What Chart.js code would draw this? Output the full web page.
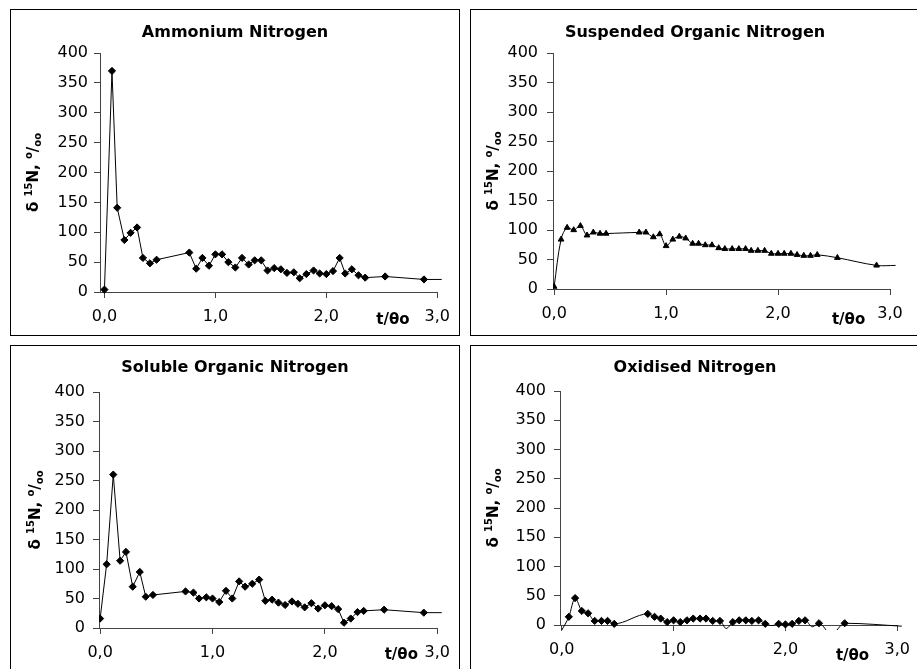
<!DOCTYPE html>
<html>
<head>
<meta charset="utf-8">
<script src="https://cdn.jsdelivr.net/npm/chart.js@4.4.1/dist/chart.umd.min.js"></script>
<style>
body{margin:0;background:#fff;width:917px;height:669px;overflow:hidden;position:relative}
.panel{position:absolute;box-sizing:border-box;width:450px;height:327px;border:1px solid #000;background:#fff}
.panel canvas{display:block}
</style>
</head>
<body>
<div class="panel" style="left:10px;top:9px"><canvas id="c1" width="448" height="325"></canvas></div>
<div class="panel" style="left:470px;top:9px"><canvas id="c2" width="448" height="325"></canvas></div>
<div class="panel" style="left:10px;top:345px"><canvas id="c3" width="448" height="325"></canvas></div>
<div class="panel" style="left:470px;top:345px"><canvas id="c4" width="448" height="325"></canvas></div>
<script>
// values (t/θo, δ15N ‰)
const xTicks = [0, 1, 2, 3];
const yMax = 400, yStep = 50;

const ammoniumT = [0,0.068,0.115,0.18,0.236,0.294,0.347,0.41,0.47,0.765,0.827,0.883,0.942,1.0,1.06,1.117,1.18,1.24,1.3,1.354,1.413,1.47,1.53,1.59,1.645,1.707,1.76,1.82,1.885,1.94,2.0,2.06,2.12,2.17,2.23,2.29,2.35,2.53,2.88,3.04];
const ammoniumN = [4,370,141,87,99,108,57,48,54,66,39,57,44,63,63,50,41,57,46,53,53,36,40,38,32,33,23,30,36,31,30,35,57,31,38,28,24,26,21,21];

const suspendedT = [0,0.062,0.116,0.175,0.235,0.294,0.35,0.41,0.464,0.76,0.82,0.886,0.943,1.0,1.06,1.118,1.175,1.237,1.29,1.35,1.41,1.47,1.525,1.59,1.65,1.71,1.76,1.82,1.88,1.94,2.0,2.055,2.115,2.17,2.23,2.29,2.35,2.53,2.88,3.05];
const suspendedN = [4,84,104,100,107,91,96,94,94,96,96,88,93,73,84,89,86,77,77,74.5,74.5,69.5,68,68,68,68,65,65,65,60,60,60,60,58,56.5,56.5,58,53,40,40];

const solubleT = [0,0.058,0.117,0.178,0.23,0.29,0.353,0.406,0.47,0.76,0.83,0.88,0.945,1.0,1.06,1.12,1.176,1.237,1.29,1.354,1.415,1.47,1.53,1.587,1.646,1.707,1.76,1.82,1.88,1.94,2.0,2.06,2.118,2.17,2.23,2.29,2.345,2.527,2.88,3.04];
const solubleN = [16,108,260,114,129,70,95,53,56,62,60,50,52,50,44,63,50,79,70,75,82,46,48,43,39,45,41,35,42,33,38.5,37,32,9,16,27,29,31,26,26];

const oxidisedT = [0,0.064,0.12,0.18,0.236,0.295,0.356,0.41,0.47,0.77,0.83,0.885,0.943,1.0,1.06,1.12,1.176,1.237,1.29,1.35,1.415,1.47,1.53,1.587,1.646,1.7,1.76,1.82,1.88,1.94,2.0,2.06,2.12,2.176,2.24,2.3,2.41,2.53,3.04];
const oxidisedN = [-9,14,46,24,20,7,7,7,2,19,14,11,5,8,5,8,11,11,11,7,7,-6,5,8,8,7,8,2,-1,2,1,2,7,8,-3,3,-16,3,-2];

const FONT = '"DejaVu Sans", Arial, sans-serif';

const panelText = {
  id: 'panelText',
  afterDraw(chart, args, o) {
    const ctx = chart.ctx, a = chart.chartArea;
    ctx.save();
    ctx.fillStyle = '#000';
    ctx.textAlign = 'center';
    ctx.textBaseline = 'middle';
    ctx.font = 'bold 16px ' + FONT;
    ctx.fillText(o.title, chart.width / 2, o.titleY);
    ctx.font = 'bold 15px ' + FONT;
    ctx.fillText('t/θo', chart.scales.x.getPixelForValue(o.unitAt), a.bottom + o.unitDy);

    // rotated y title: δ 15N, o/oo
    const parts = [['δ ', 15, 0], ['15', 10, -6], ['N, ', 15, 0], ['o', 10, -6], ['/', 15, 0], ['oo', 10, 3]];
    ctx.translate(o.yTitleX, (a.top + a.bottom) / 2);
    ctx.rotate(-Math.PI / 2);
    ctx.textAlign = 'left';
    ctx.textBaseline = 'alphabetic';
    let total = 0;
    parts.forEach(p => { ctx.font = 'bold ' + p[1] + 'px ' + FONT; total += ctx.measureText(p[0]).width; });
    let x = -total / 2;
    parts.forEach(p => {
      ctx.font = 'bold ' + p[1] + 'px ' + FONT;
      ctx.fillText(p[0], x, 5 + p[2]);
      x += ctx.measureText(p[0]).width;
    });
    ctx.restore();
  }
};

function makePanel(id, title, ts, vals, style, smooth, box) {
  const c = document.getElementById(id);
  const W = c.width, H = c.height;
  const yw = 60, xh = 34;
  new Chart(c, {
    type: 'line',
    data: {
      datasets: [{
        data: ts.map((t, i) => ({ x: t, y: vals[i] })),
        borderColor: '#000',
        borderWidth: 1,
        backgroundColor: '#000',
        pointStyle: style,
        pointRadius: ctx => (ctx.raw && (ctx.raw.x > 3 || ctx.raw.y < 0)) ? 0 : (style === 'triangle' ? 3.3 : 3.6),
        pointBorderWidth: 1,
        pointBorderColor: '#000',
        pointBackgroundColor: '#000',
        tension: smooth === 'bezier' ? 0.35 : 0,
        cubicInterpolationMode: smooth === 'monotone' ? 'monotone' : 'default',
        clip: { left: 0, top: 0, right: false, bottom: 5 }
      }]
    },
    options: {
      responsive: false,
      animation: false,
      devicePixelRatio: 1,
      layout: { padding: { left: box.left - yw, right: W - box.right, top: box.top, bottom: H - box.bottom - xh } },
      plugins: {
        legend: { display: false },
        tooltip: { enabled: false },
        panelText: { title: title, titleY: box.titleY, unitAt: box.unitAt, unitDy: box.unitDy, yTitleX: box.yTitleX }
      },
      scales: {
        x: {
          type: 'linear',
          min: box.xmin,
          max: 3,
          afterBuildTicks: s => { s.ticks = xTicks.map(v => ({ value: v })); },
          afterFit: s => { s.height = xh; },
          grid: { drawOnChartArea: false, tickLength: 6, color: '#444' },
          border: { color: '#444', width: 1 },
          ticks: {
            color: '#000',
            padding: 9,
            maxRotation: 0,
            autoSkip: false,
            font: { family: FONT, size: 16 },
            callback: v => v.toFixed(1).replace('.', ',')
          }
        },
        y: {
          min: 0,
          max: yMax,
          afterFit: s => { s.width = yw; },
          grid: { drawOnChartArea: false, tickLength: 6, color: '#444' },
          border: { color: '#444', width: 1 },
          ticks: {
            stepSize: yStep,
            color: '#000',
            padding: box.tickPad,
            font: { family: FONT, size: 16 }
          }
        }
      }
    },
    plugins: [panelText]
  });
}

makePanel('c1', 'Ammonium Nitrogen', ammoniumT, ammoniumN, 'rectRot', 'none',
  { left: 89, right: 432, top: 43, bottom: 282, xmin: -0.04, tickPad: 6, titleY: 23, unitAt: 2.6, unitDy: 28, yTitleX: 22 });
makePanel('c2', 'Suspended Organic Nitrogen', suspendedT, suspendedN, 'triangle', 'bezier',
  { left: 82, right: 419, top: 43, bottom: 279, xmin: -0.01, tickPad: 9, titleY: 23, unitAt: 2.63, unitDy: 31, yTitleX: 22 });
makePanel('c3', 'Soluble Organic Nitrogen', solubleT, solubleN, 'rectRot', 'none',
  { left: 88, right: 432, top: 46, bottom: 282, xmin: -0.01, tickPad: 8, titleY: 22, unitAt: 2.68, unitDy: 27, yTitleX: 24 });
makePanel('c4', 'Oxidised Nitrogen', oxidisedT, oxidisedN, 'rectRot', 'monotone',
  { left: 89, right: 433, top: 45, bottom: 279, xmin: -0.015, tickPad: 8, titleY: 22, unitAt: 2.6, unitDy: 31, yTitleX: 22 });
</script>
</body>
</html>
